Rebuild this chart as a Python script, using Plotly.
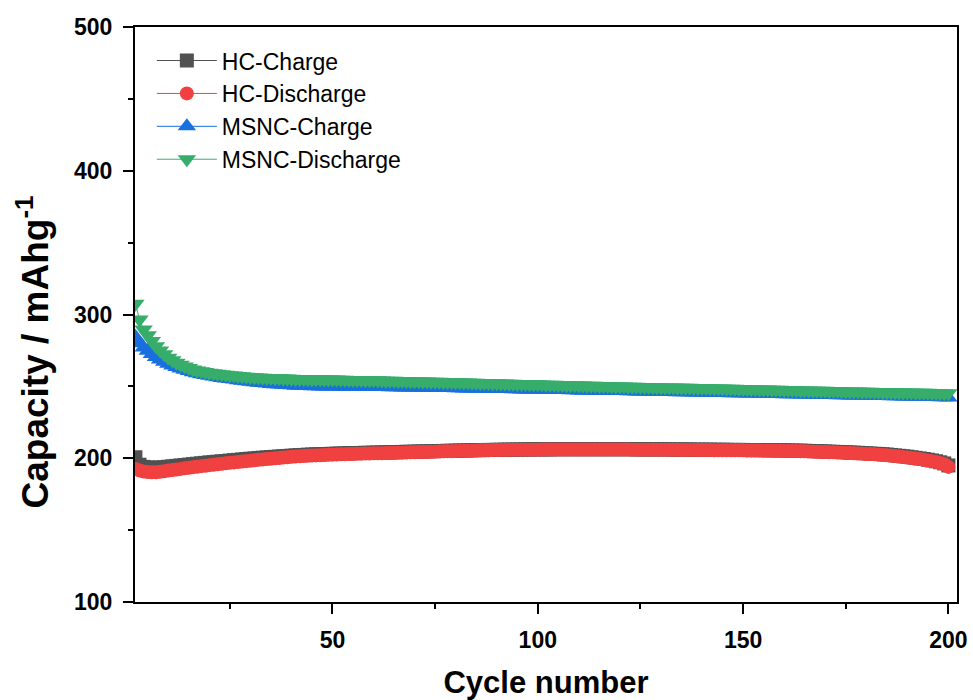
import plotly.graph_objects as go

cycles = list(range(2, 201))

hc_charge = [
    200.7, 195.5, 194.0, 193.6, 193.4, 193.4, 193.6, 193.8, 194.1,
    194.4, 194.7, 195.0, 195.3, 195.6, 195.9, 196.2, 196.5, 196.8, 197.1,
    197.3, 197.6, 197.9, 198.1, 198.4, 198.7, 198.9, 199.2, 199.5, 199.7,
    199.9, 200.2, 200.4, 200.6, 200.8, 201.0, 201.2, 201.4, 201.6, 201.8,
    202.0, 202.2, 202.3, 202.5, 202.6, 202.7, 202.8, 202.9, 203.0, 203.1,
    203.2, 203.3, 203.4, 203.5, 203.6, 203.6, 203.7, 203.8, 203.8, 203.9,
    204.0, 204.0, 204.1, 204.2, 204.2, 204.3, 204.4, 204.5, 204.5, 204.6,
    204.7, 204.7, 204.8, 204.9, 205.0, 205.0, 205.1, 205.2, 205.2, 205.3,
    205.4, 205.4, 205.5, 205.6, 205.6, 205.7, 205.7, 205.8, 205.8, 205.9,
    205.9, 206.0, 206.0, 206.0, 206.1, 206.1, 206.1, 206.2, 206.2, 206.2,
    206.2, 206.2, 206.2, 206.3, 206.3, 206.3, 206.3, 206.3, 206.3, 206.3,
    206.3, 206.3, 206.3, 206.3, 206.3, 206.3, 206.3, 206.3, 206.3, 206.3,
    206.3, 206.3, 206.3, 206.2, 206.2, 206.2, 206.2, 206.2, 206.2, 206.2,
    206.2, 206.2, 206.1, 206.1, 206.1, 206.1, 206.1, 206.0, 206.0, 206.0,
    206.0, 206.0, 205.9, 205.9, 205.9, 205.9, 205.8, 205.8, 205.8, 205.8,
    205.7, 205.7, 205.7, 205.7, 205.6, 205.6, 205.6, 205.5, 205.5, 205.5,
    205.4, 205.4, 205.3, 205.3, 205.2, 205.1, 205.0, 204.9, 204.8, 204.7,
    204.6, 204.5, 204.4, 204.3, 204.2, 204.0, 203.9, 203.8, 203.6, 203.5,
    203.3, 203.1, 203.0, 202.8, 202.6, 202.3, 202.0, 201.7, 201.4, 201.1,
    200.7, 200.3, 199.9, 199.5, 199.0, 198.5, 197.9, 197.2, 196.4, 195.0,
]

hc_discharge = [
    192.5, 191.5, 190.8, 190.4, 190.2, 190.3, 190.6, 191.0, 191.4,
    191.8, 192.2, 192.6, 193.0, 193.4, 193.8, 194.1, 194.5, 194.8, 195.2,
    195.5, 195.8, 196.1, 196.5, 196.8, 197.1, 197.4, 197.7, 198.0, 198.3,
    198.6, 198.9, 199.2, 199.4, 199.7, 200.0, 200.2, 200.5, 200.7, 201.0,
    201.2, 201.4, 201.6, 201.7, 201.9, 202.0, 202.1, 202.3, 202.4, 202.5,
    202.6, 202.7, 202.8, 202.9, 203.0, 203.1, 203.2, 203.3, 203.3, 203.4,
    203.5, 203.5, 203.6, 203.7, 203.7, 203.8, 203.9, 204.0, 204.1, 204.2,
    204.3, 204.3, 204.4, 204.5, 204.6, 204.7, 204.8, 204.8, 204.9, 205.0,
    205.1, 205.2, 205.2, 205.3, 205.4, 205.5, 205.5, 205.6, 205.7, 205.7,
    205.8, 205.8, 205.9, 205.9, 205.9, 206.0, 206.0, 206.0, 206.0, 206.0,
    206.1, 206.1, 206.1, 206.1, 206.1, 206.1, 206.1, 206.1, 206.1, 206.1,
    206.1, 206.1, 206.1, 206.1, 206.1, 206.1, 206.1, 206.1, 206.1, 206.1,
    206.1, 206.1, 206.0, 206.0, 206.0, 206.0, 206.0, 206.0, 206.0, 206.0,
    205.9, 205.9, 205.9, 205.9, 205.8, 205.8, 205.8, 205.8, 205.7, 205.7,
    205.7, 205.7, 205.6, 205.6, 205.6, 205.6, 205.5, 205.5, 205.5, 205.5,
    205.4, 205.4, 205.4, 205.4, 205.3, 205.3, 205.3, 205.2, 205.2, 205.1,
    205.1, 205.0, 205.0, 204.9, 204.8, 204.7, 204.6, 204.5, 204.4, 204.3,
    204.2, 204.1, 204.0, 203.9, 203.7, 203.6, 203.5, 203.3, 203.2, 203.0,
    202.9, 202.7, 202.5, 202.3, 202.1, 201.8, 201.5, 201.2, 200.9, 200.6,
    200.2, 199.8, 199.4, 199.0, 198.5, 198.0, 197.4, 196.7, 195.8, 194.0,
]

msnc_charge = [
    284.5, 280.0, 277.0, 274.8, 272.5, 270.5, 268.7, 267.1, 265.7,
    264.5, 263.4, 262.4, 261.5, 260.7, 259.9, 259.2, 258.5, 257.9, 257.4,
    256.9, 256.4, 255.9, 255.5, 255.1, 254.7, 254.3, 253.9, 253.5, 253.2,
    252.9, 252.6, 252.3, 252.0, 251.7, 251.5, 251.3, 251.1, 250.9, 250.7,
    250.5, 250.4, 250.3, 250.2, 250.1, 250.1, 250.0, 250.0, 249.9, 249.9,
    249.9, 249.8, 249.8, 249.8, 249.7, 249.7, 249.7, 249.6, 249.6, 249.6,
    249.5, 249.5, 249.5, 249.4, 249.4, 249.4, 249.3, 249.3, 249.2, 249.2,
    249.1, 249.1, 249.1, 249.0, 249.0, 248.9, 248.9, 248.8, 248.8, 248.7,
    248.7, 248.6, 248.6, 248.5, 248.5, 248.4, 248.4, 248.3, 248.3, 248.2,
    248.2, 248.1, 248.1, 248.0, 248.0, 247.9, 247.9, 247.8, 247.8, 247.7,
    247.7, 247.6, 247.6, 247.5, 247.5, 247.4, 247.4, 247.3, 247.3, 247.2,
    247.2, 247.1, 247.1, 247.0, 247.0, 246.9, 246.9, 246.8, 246.8, 246.7,
    246.7, 246.6, 246.6, 246.5, 246.5, 246.4, 246.4, 246.3, 246.3, 246.2,
    246.2, 246.1, 246.1, 246.0, 246.0, 245.9, 245.9, 245.8, 245.8, 245.7,
    245.7, 245.6, 245.6, 245.5, 245.5, 245.4, 245.3, 245.3, 245.2, 245.2,
    245.1, 245.1, 245.0, 245.0, 244.9, 244.9, 244.8, 244.7, 244.7, 244.6,
    244.6, 244.5, 244.5, 244.4, 244.4, 244.3, 244.2, 244.2, 244.1, 244.1,
    244.0, 244.0, 243.9, 243.8, 243.8, 243.7, 243.7, 243.6, 243.6, 243.5,
    243.5, 243.4, 243.4, 243.3, 243.3, 243.2, 243.1, 243.1, 243.0, 243.0,
    242.9, 242.9, 242.8, 242.8, 242.7, 242.6, 242.6, 242.5, 242.5, 242.3,
]

msnc_discharge = [
    307.5, 296.5, 289.5, 285.5, 281.5, 278.0, 275.0, 272.3, 269.9,
    268.1, 266.5, 265.1, 263.8, 262.7, 261.8, 261.1, 260.5, 260.0, 259.5,
    259.1, 258.7, 258.4, 258.1, 257.8, 257.5, 257.2, 257.0, 256.7, 256.5,
    256.3, 256.2, 256.0, 255.9, 255.8, 255.7, 255.6, 255.5, 255.4, 255.3,
    255.2, 255.1, 255.1, 255.0, 255.0, 254.9, 254.9, 254.8, 254.8, 254.7,
    254.7, 254.6, 254.6, 254.5, 254.5, 254.4, 254.4, 254.3, 254.3, 254.2,
    254.2, 254.1, 254.0, 254.0, 253.9, 253.8, 253.8, 253.7, 253.6, 253.6,
    253.5, 253.4, 253.4, 253.3, 253.2, 253.2, 253.1, 253.0, 253.0, 252.9,
    252.8, 252.7, 252.7, 252.6, 252.5, 252.4, 252.4, 252.3, 252.2, 252.1,
    252.0, 252.0, 251.9, 251.8, 251.7, 251.7, 251.6, 251.5, 251.4, 251.4,
    251.3, 251.2, 251.1, 251.1, 251.0, 250.9, 250.8, 250.8, 250.7, 250.6,
    250.6, 250.5, 250.4, 250.4, 250.3, 250.2, 250.2, 250.1, 250.0, 250.0,
    249.9, 249.8, 249.8, 249.7, 249.6, 249.6, 249.5, 249.4, 249.4, 249.3,
    249.3, 249.2, 249.2, 249.1, 249.1, 249.0, 249.0, 248.9, 248.9, 248.8,
    248.8, 248.7, 248.6, 248.6, 248.5, 248.4, 248.4, 248.3, 248.2, 248.2,
    248.1, 248.0, 248.0, 247.9, 247.8, 247.8, 247.7, 247.6, 247.6, 247.5,
    247.4, 247.4, 247.3, 247.2, 247.2, 247.1, 247.0, 247.0, 246.9, 246.9,
    246.8, 246.7, 246.7, 246.6, 246.5, 246.5, 246.4, 246.4, 246.3, 246.2,
    246.2, 246.1, 246.1, 246.0, 246.0, 245.9, 245.9, 245.8, 245.8, 245.7,
    245.7, 245.6, 245.6, 245.5, 245.5, 245.4, 245.4, 245.3, 245.3, 245.2,
]

x_tick_vals = [50, 100, 150, 200]
x_minor_vals = [25, 75, 125, 175]
y_tick_vals = [100, 200, 300, 400, 500]
y_minor_vals = [150, 250, 350, 450]

series = [
    ("HC-Charge", hc_charge, "#515151", "square", 14),
    ("HC-Discharge", hc_discharge, "#F14040", "circle", 14),
    ("MSNC-Charge", msnc_charge, "#1A6FDF", "triangle-up", 16),
    ("MSNC-Discharge", msnc_discharge, "#37AD6B", "triangle-down", 16),
]

FONT = "Liberation Sans, Arial, sans-serif"

fig = go.Figure()
for name, vals, color, sym, size in series:
    fig.add_trace(go.Scatter(
        x=cycles, y=vals, name=name, mode="lines+markers",
        line=dict(color=color, width=1),
        marker=dict(symbol=sym, size=size, color=color, line=dict(width=0)),
    ))

axis_common = dict(
    showline=True, linecolor="black", linewidth=2, mirror=True,
    ticks="outside", ticklen=10, tickwidth=2, tickcolor="black",
    showgrid=False, zeroline=False, automargin=False,
    tickfont=dict(family=FONT, size=23, color="black", weight="bold"),
    ticklabelstandoff=6,
)

fig.update_xaxes(
    range=[1.9, 202.1], tickvals=x_tick_vals,
    minor=dict(tickvals=x_minor_vals, ticks="outside", ticklen=5, tickwidth=2, tickcolor="black"),
    title=dict(text="Cycle number", font=dict(family=FONT, size=31, color="black", weight="bold"), standoff=20),
    **axis_common,
)
fig.update_yaxes(
    range=[100, 500], tickvals=y_tick_vals,
    minor=dict(tickvals=y_minor_vals, ticks="outside", ticklen=5, tickwidth=2, tickcolor="black"),
    **axis_common,
)

fig.add_annotation(
    text="Capacity / mAhg<sup>-1</sup>", textangle=-90,
    xref="paper", yref="paper", x=-0.124, y=0.434,
    xanchor="center", yanchor="middle", showarrow=False,
    font=dict(family=FONT, size=37, color="black", weight="bold"),
)

fig.update_layout(
    width=973, height=700,
    margin=dict(l=135, r=16, t=27, b=98),
    plot_bgcolor="white", paper_bgcolor="white",
    hovermode=False,
    legend=dict(
        x=0.0205, y=0.979, xanchor="left", yanchor="top",
        bgcolor="rgba(0,0,0,0)", itemwidth=60,
        font=dict(family=FONT, size=23, color="black"),
        tracegroupgap=0,
    ),
)

fig.write_html(
    "out.html",
    config={"displayModeBar": False},
    post_script="document.body.style.margin='0';document.body.style.overflow='hidden';",
)
